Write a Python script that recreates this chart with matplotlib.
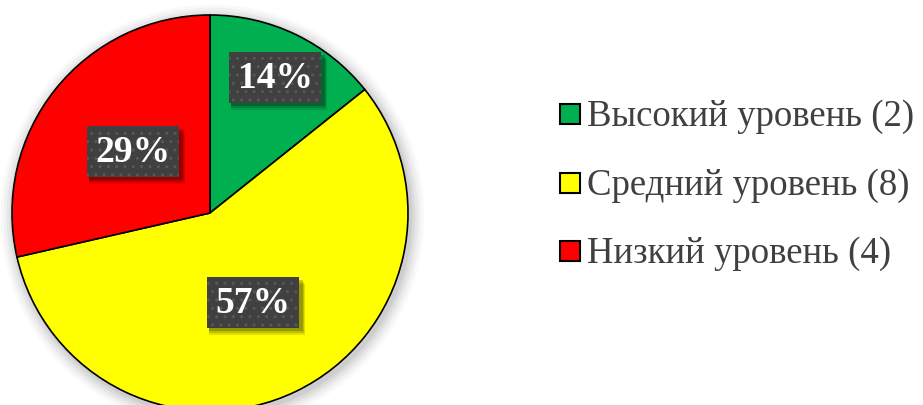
import numpy as np
import matplotlib
matplotlib.use("Agg")
import matplotlib.pyplot as plt
from matplotlib.patches import Circle, Rectangle

categories = ["Высокий уровень", "Средний уровень", "Низкий уровень"]
counts = [2, 8, 4]
colors = ["#00B050", "#FFFF00", "#FF0000"]
pct_labels = ["14%", "57%", "29%"]
label_dist = [0.758, 0.50, 0.497]

W, H, DPI = 923, 405, 100
fig = plt.figure(figsize=(W / DPI, H / DPI), dpi=DPI)
fig.patch.set_facecolor("white")

cx, cy, r = 210, 213, 198
ax = fig.add_axes([(cx - r) / W, (H - cy - r) / H, 2 * r / W, 2 * r / H])

# soft shadow
for rr, a in [(1.07, 0.025), (1.055, 0.03), (1.04, 0.04), (1.025, 0.05), (1.01, 0.06)]:
    ax.add_patch(Circle((0.012, -0.018), rr, facecolor="black", alpha=a, edgecolor="none",
                        zorder=0, clip_on=False))

wedges, _ = ax.pie(counts, colors=colors, startangle=90, counterclock=False, radius=1,
                   wedgeprops=dict(edgecolor="black", linewidth=1.2))
for w in wedges:
    w.set_zorder(2)
    w.set_clip_on(False)
ax.set_xlim(-1, 1)
ax.set_ylim(-1, 1)
ax.set_aspect("equal")
ax.axis("off")

bw, bh = 92 / r, 51 / r
for w, lab, d in zip(wedges, pct_labels, label_dist):
    ang = np.deg2rad((w.theta1 + w.theta2) / 2)
    x, y = d * np.cos(ang), d * np.sin(ang)
    for k, a in [(0.035, 0.12), (0.025, 0.15), (0.015, 0.2)]:
        ax.add_patch(Rectangle((x - bw / 2 + 0.012, y - bh / 2 - k), bw + k * 0.5, bh,
                               facecolor="black", alpha=a, edgecolor="none", zorder=3))
    ax.add_patch(Rectangle((x - bw / 2, y - bh / 2), bw, bh, facecolor="#404040",
                           edgecolor="#585858", linewidth=0, hatch="..", zorder=4))
    ax.text(x, y - 0.005, lab, ha="center", va="center", fontsize=27,
            family="Liberation Serif", fontweight="bold", color="white", zorder=5)

# legend (manual layout in pixels)
leg_x, leg_y0, leg_dy, sq = 560, 114, 68.5, 20
for i, (c, name, n) in enumerate(zip(colors, categories, counts)):
    yc = leg_y0 + i * leg_dy
    fig.add_artist(Rectangle((leg_x / W, 1 - (yc + sq / 2) / H), sq / W, sq / H,
                             transform=fig.transFigure, facecolor=c, edgecolor="black",
                             linewidth=1.5))
    fig.text(587 / W, 1 - (yc + 12) / H, f"{name} ({n})", ha="left", va="baseline",
             family="Liberation Serif", fontsize=26.5, color="#404040")

fig.savefig("out.png", dpi=DPI, facecolor="white")
